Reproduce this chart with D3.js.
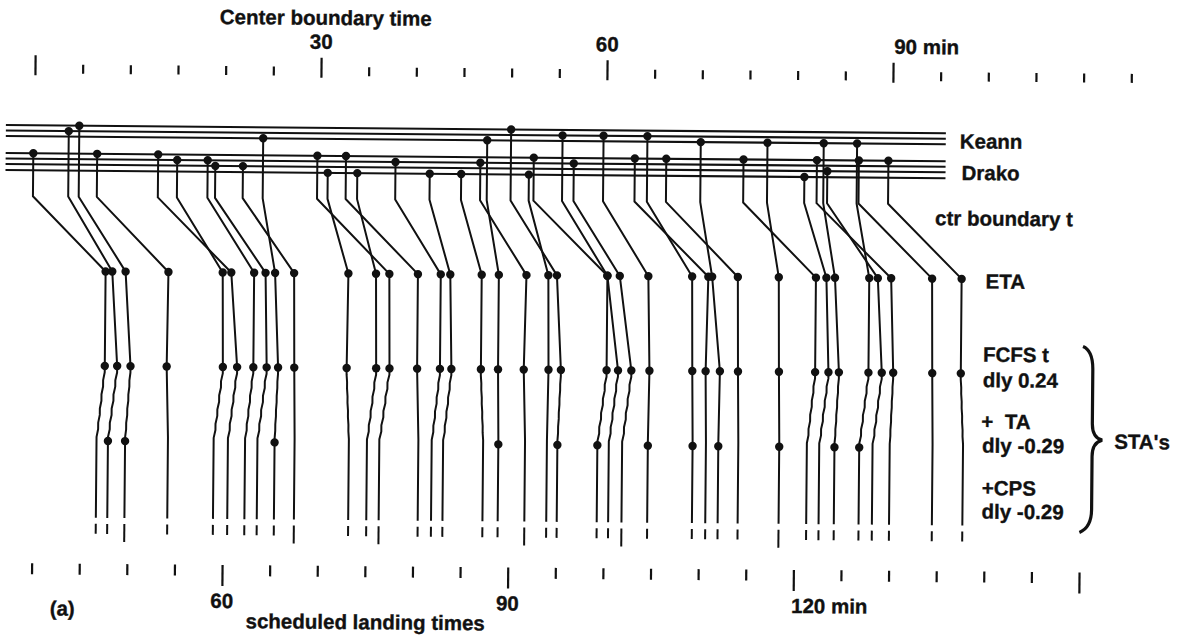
<!DOCTYPE html>
<html>
<head>
<meta charset="utf-8">
<script src="https://cdn.jsdelivr.net/npm/d3@7"></script>
<style>
  body { margin: 0; background: #fff; }
  .chart text {
    font-family: 'Liberation Sans', Arial, sans-serif;
    font-weight: bold;
    font-size: 20.5px;
    fill: #111;
    stroke: #111;
    stroke-width: 0.35px;
  }
</style>
</head>
<body>
<div class="chart"></div>
<script>
// aircraft in landing (ETA) order
const boundaryTimes = [-0.1, 3.6, 4.7, 6.6, 15.0, 13.0, 18.2, 19.0, 24.0, 21.9, 30.8, 33.9, 29.7, 32.7, 37.9, 41.5, 44.8, 47.5, 46.8, 51.9, 50.0, 55.4, 52.4, 56.6, 59.7, 64.3, 63.0, 69.9, 66.3, 76.9, 74.4, 80.8, 82.8, 86.3, 83.2, 82.1, 86.5, 89.6];
const streams = ['Drako', 'Keann', 'Keann', 'Drako', 'Drako', 'Drako', 'Drako', 'Drako', 'Keann', 'Drako',
  'Drako', 'Drako', 'Drako', 'Drako', 'Drako', 'Drako', 'Drako', 'Keann', 'Drako', 'Drako',
  'Keann', 'Keann', 'Drako', 'Drako', 'Keann', 'Keann', 'Drako', 'Keann', 'Drako', 'Keann',
  'Drako', 'Drako', 'Keann', 'Keann', 'Drako', 'Drako', 'Drako', 'Drako'];
const lanes = [0, 1, 0, 0, 1, 0, 1, 2, 2, 2, 3, 3, 0, 0, 1, 3, 3, 2, 1, 3, 0, 1, 0, 1, 1, 1, 0, 2, 0, 2, 0, 3, 2, 2, 2, 0, 0, 0];
const etaTimes = [47.5, 48.2, 49.6, 54.1, 59.8, 60.7, 63.1, 64.3, 65.3, 67.3, 73.0, 75.9, 77.3, 80.3, 82.7, 83.7, 87.0, 88.8, 91.7, 94.0, 94.9, 100.2, 100.2, 101.5, 104.5, 109.1, 110.8, 111.2, 113.9, 118.2, 122.1, 123.2, 124.1, 127.7, 128.6, 130.0, 134.3, 137.4];
const fcfsTimes = [47.5, 48.8, 50.2, 54.0, 59.9, 61.4, 63.1, 64.5, 65.7, 67.4, 72.9, 76.0, 77.4, 80.3, 82.7, 83.9, 87.0, 88.8, 91.5, 94.1, 95.4, 100.2, 101.4, 102.8, 104.7, 109.2, 110.6, 112.1, 114.0, 118.3, 122.1, 123.5, 124.6, 127.7, 129.1, 130.3, 134.4, 137.4];
const staTimes = [46.7, 47.9, 49.7, 54.2, 59.0, 60.5, 62.3, 63.6, 65.4, 67.5, 73.2, 75.1, 76.4, 80.5, 81.9, 83.1, 87.3, 88.9, 91.7, 94.0, 95.1, 99.3, 100.5, 101.9, 104.6, 109.3, 110.7, 112.0, 114.1, 118.4, 121.3, 122.6, 124.2, 126.8, 128.2, 130.0, 134.5, 137.7];
const longTickIdx = [2, 9, 12, 18, 23, 29];

const topTickValues = d3.range(0, 116, 5);
const topMajor = [0, 30, 60, 90];
const topLabelValues = [30, 60, 90];
const topLabels = ['30', '60', '90 min'];
const botTickValues = d3.range(40, 151, 5);
const botMajor = [60, 90, 120, 150];
const botLabelValues = [60, 90, 120];
const botLabels = ['60', '90', '120 min'];

const stageLabels = ['ctr boundary t', 'ETA', 'FCFS t', 'dly 0.24', '+  TA', 'dly -0.29', '+CPS', 'dly -0.29'];

function displayChart() {
  const w = 1182;
  const h = 636;
  const laneY = {
    Keann: [125, 130.5, 136],
    Drako: [153, 158.5, 164, 170]
  };
  const yBend = 196;
  const yEta = 270.5;
  const yFcfs = 365;
  const yShift = 436;
  const yTa = 440;
  const yCps = 517;

  const xTop = d3.scaleLinear().domain([0, 90]).range([35.6, 893.6]);
  const xBot = d3.scaleLinear().domain([60, 150]).range([227, 1084]);

  const svg = d3.select('.chart')
    .append('svg')
    .attr('width', w)
    .attr('height', h);

  // the scanned figure sits slightly tilted
  const g = svg.append('g').attr('transform', 'rotate(0.5)');

  // top axis
  const topAxis = g.append('g')
    .attr('class', 'x-axis-top')
    .attr('transform', 'translate(0, 73)')
    .call(d3.axisTop(xTop).tickValues(topTickValues).tickSize(9).tickFormat(''));
  topAxis.select('.domain').remove();
  topAxis.selectAll('.tick line')
    .attr('stroke', '#111')
    .attr('stroke-width', 2.2)
    .attr('y1', d => topMajor.includes(d) ? 2 : 0)
    .attr('y2', d => topMajor.includes(d) ? -18 : -9);

  g.append('text')
    .attr('x', 220)
    .attr('y', 22)
    .text('Center boundary time');

  g.selectAll('.top-label')
    .data(topLabelValues)
    .enter()
    .append('text')
    .attr('class', 'top-label')
    .attr('x', (d, i) => i === 2 ? xTop(d) + 1 : xTop(d))
    .attr('y', 46)
    .attr('text-anchor', (d, i) => i === 2 ? 'start' : 'middle')
    .text((d, i) => topLabels[i]);

  // bottom axis
  const botAxis = g.append('g')
    .attr('class', 'x-axis-bottom')
    .attr('transform', 'translate(0, 563)')
    .call(d3.axisBottom(xBot).tickValues(botTickValues).tickSize(11).tickFormat(''));
  botAxis.select('.domain').remove();
  botAxis.selectAll('.tick line')
    .attr('stroke', '#111')
    .attr('stroke-width', 2.2)
    .attr('y2', d => botMajor.includes(d) ? 21 : 11);

  g.selectAll('.bot-label')
    .data(botLabelValues)
    .enter()
    .append('text')
    .attr('class', 'bot-label')
    .attr('x', (d, i) => i === 2 ? xBot(d) - 2 : xBot(d))
    .attr('y', 606)
    .attr('text-anchor', (d, i) => i === 2 ? 'start' : 'middle')
    .text((d, i) => botLabels[i]);

  g.append('text')
    .attr('x', 251)
    .attr('y', 626)
    .text('scheduled landing times');

  g.append('text')
    .attr('x', 55)
    .attr('y', 615)
    .text('(a)');

  // stream lines
  const streamLines = [];
  Object.keys(laneY).forEach(s => laneY[s].forEach(y => streamLines.push(y)));
  g.selectAll('.stream')
    .data(streamLines)
    .enter()
    .append('line')
    .attr('class', 'stream')
    .attr('x1', 7)
    .attr('x2', 947)
    .attr('y1', d => d)
    .attr('y2', d => d)
    .attr('stroke', '#111')
    .attr('stroke-width', 2.1);

  g.append('text').attr('x', 961).attr('y', 140).text('Keann');
  g.append('text').attr('x', 963).attr('y', 171.5).text('Drako');

  // aircraft paths
  const line = d3.line();
  const aircraft = boundaryTimes.map((b, i) => ({
    b: b,
    y0: laneY[streams[i]][lanes[i]],
    eta: etaTimes[i],
    fcfs: fcfsTimes[i],
    sta: staTimes[i],
    keann: streams[i] === 'Keann',
    longTick: longTickIdx.includes(i)
  }));

  // plotter-style stepped shift from FCFS down to the TA slot
  function steps(x1, x2) {
    const pts = [];
    const n = 5;
    const dy = (yShift - yFcfs) / n;
    if (Math.abs(x2 - x1) < 2) return [[x2, yShift]];
    for (let k = 0; k < n; k++) {
      const xa = x1 + (x2 - x1) * k / n;
      const xb = x1 + (x2 - x1) * (k + 1) / n;
      pts.push([xa, yFcfs + dy * k + dy * 0.45]);
      pts.push([xb, yFcfs + dy * (k + 1)]);
    }
    return pts;
  }

  g.selectAll('.track')
    .data(aircraft)
    .enter()
    .append('path')
    .attr('class', 'track')
    .attr('fill', 'none')
    .attr('stroke', '#111')
    .attr('stroke-width', 2)
    .attr('stroke-linejoin', 'round')
    .attr('d', d => line([
      [xTop(d.b), d.y0],
      [xTop(d.b), yBend],
      [xBot(d.eta), yEta],
      [xBot(d.fcfs), yFcfs]
    ].concat(steps(xBot(d.fcfs), xBot(d.sta)), [[xBot(d.sta), yCps]])));

  const dots = [];
  aircraft.forEach(d => {
    dots.push([xTop(d.b), d.y0]);
    dots.push([xBot(d.eta), yEta]);
    dots.push([xBot(d.fcfs), yFcfs]);
    if (d.keann) dots.push([xBot(d.sta), yTa]);
  });
  g.selectAll('.dot')
    .data(dots)
    .enter()
    .append('circle')
    .attr('class', 'dot')
    .attr('cx', d => d[0])
    .attr('cy', d => d[1])
    .attr('r', 4.2)
    .attr('fill', '#111');

  g.selectAll('.sta-tick')
    .data(aircraft)
    .enter()
    .append('line')
    .attr('class', 'sta-tick')
    .attr('x1', d => xBot(d.sta))
    .attr('x2', d => xBot(d.sta))
    .attr('y1', 523)
    .attr('y2', d => d.longTick ? 541 : 533)
    .attr('stroke', '#111')
    .attr('stroke-width', 2);

  // stage labels on the right
  const stageX = [937, 988, 986, 986, 985, 986, 986, 986];
  const stageY = [217, 280, 353, 378.5, 420, 444, 486.5, 510];
  g.selectAll('.stage')
    .data(stageLabels)
    .enter()
    .append('text')
    .attr('class', 'stage')
    .attr('x', (d, i) => stageX[i])
    .attr('y', (d, i) => stageY[i])
    .attr('xml:space', 'preserve')
    .text(d => d);

  // brace grouping the STA's
  g.append('path')
    .attr('fill', 'none')
    .attr('stroke', '#111')
    .attr('stroke-width', 3.2)
    .attr('d', 'M1086,337 Q1096,341 1096,360 L1096,414 Q1096,428 1106,430.5 Q1096,433 1096,447 L1096,500 Q1096,518 1084,523');

  g.append('text')
    .attr('x', 1118)
    .attr('y', 439)
    .text("STA's");
}

displayChart();
</script>
</body>
</html>
